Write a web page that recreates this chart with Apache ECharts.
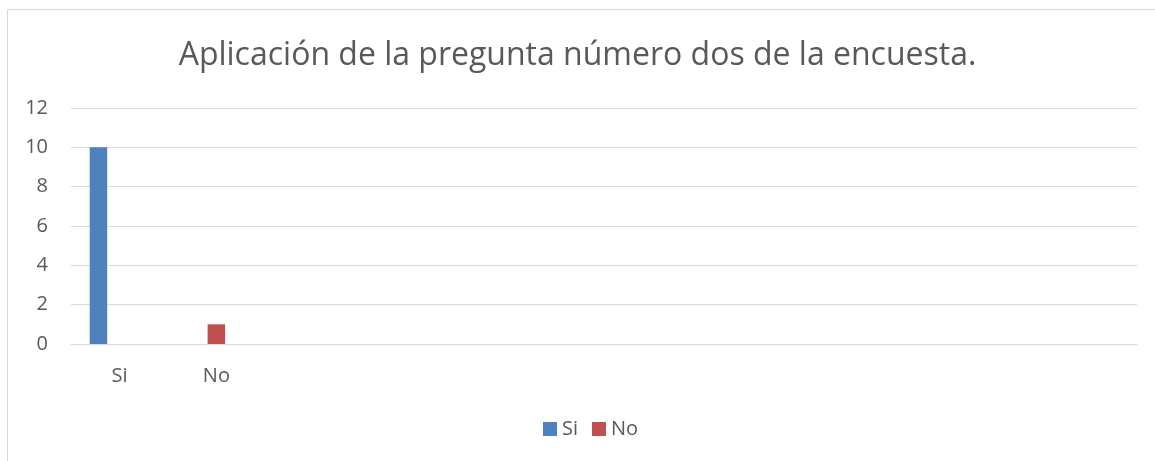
<!DOCTYPE html>
<html lang="es">
<head>
    <meta charset="UTF-8">
    <title>Pregunta dos</title>
    <script type="text/javascript" src="https://cdn.jsdelivr.net/npm/echarts@6/dist/echarts.min.js"></script>
    <style>
        html, body { margin: 0; padding: 0; background: #fff; }
    </style>
</head>
<body>
<div id="chart" style="width:1155px;height:461px;"></div>
<script type="text/javascript">
    var titulo = 'Aplicación de la pregunta número dos de la encuesta.';
    // categorias del eje (solo las dos primeras tienen nombre)
    var categorias = ['Si', 'No', '', '', '', '', '', '', '', '', ''];
    var valoresSi = [10, '-'];
    var valoresNo = ['-', 1];
    var vacio = [];
    var ticksY = [0, 2, 4, 6, 8, 10, 12];

    var myChart = echarts.init(document.getElementById('chart'));
    var fuente = '"Open Sans", "Liberation Sans", sans-serif';

    var option = {
        animation: false,
        backgroundColor: '#fff',
        graphic: [{
            type: 'rect',
            shape: { x: 7.5, y: 9.5, width: 1160, height: 470 },
            style: { fill: 'none', stroke: '#d9d9d9', lineWidth: 1 },
            silent: true
        }],
        title: {
            text: titulo,
            left: 'center',
            top: 35,
            textStyle: {
                fontFamily: fuente,
                fontWeight: 'normal',
                fontSize: 32,
                color: '#595959'
            }
        },
        legend: {
            data: ['Si', 'No'],
            bottom: 17,
            left: 538,
            itemWidth: 14,
            itemHeight: 14,
            itemGap: 14,
            icon: 'rect',
            textStyle: { fontFamily: fuente, fontSize: 20, color: '#595959' }
        },
        grid: { left: 71, right: 18, top: 108, bottom: 117 },
        xAxis: {
            type: 'category',
            data: categorias,
            axisLine: { lineStyle: { color: '#d9d9d9', width: 1 } },
            axisTick: { show: false },
            axisLabel: { interval: 0, margin: 22, fontFamily: fuente, fontSize: 20, color: '#595959' }
        },
        yAxis: {
            type: 'value',
            min: ticksY[0],
            max: ticksY[ticksY.length - 1],
            interval: 2,
            axisLine: { show: false },
            axisTick: { show: false },
            axisLabel: { margin: 23, fontFamily: fuente, fontSize: 20, color: '#595959' },
            splitLine: { lineStyle: { color: '#d9d9d9', width: 1 } }
        },
        series: [{
            name: 'Si',
            type: 'bar',
            data: valoresSi,
            barWidth: 17.5,
            barGap: '20%',
            itemStyle: { color: '#4f81bd' }
        }, {
            name: 'No',
            type: 'bar',
            data: valoresNo,
            barWidth: 17.5,
            itemStyle: { color: '#c0504d' }
        }, {
            name: '',
            type: 'bar',
            data: vacio,
            barWidth: 17.5
        }]
    };
    myChart.setOption(option);
</script>
</body>
</html>
